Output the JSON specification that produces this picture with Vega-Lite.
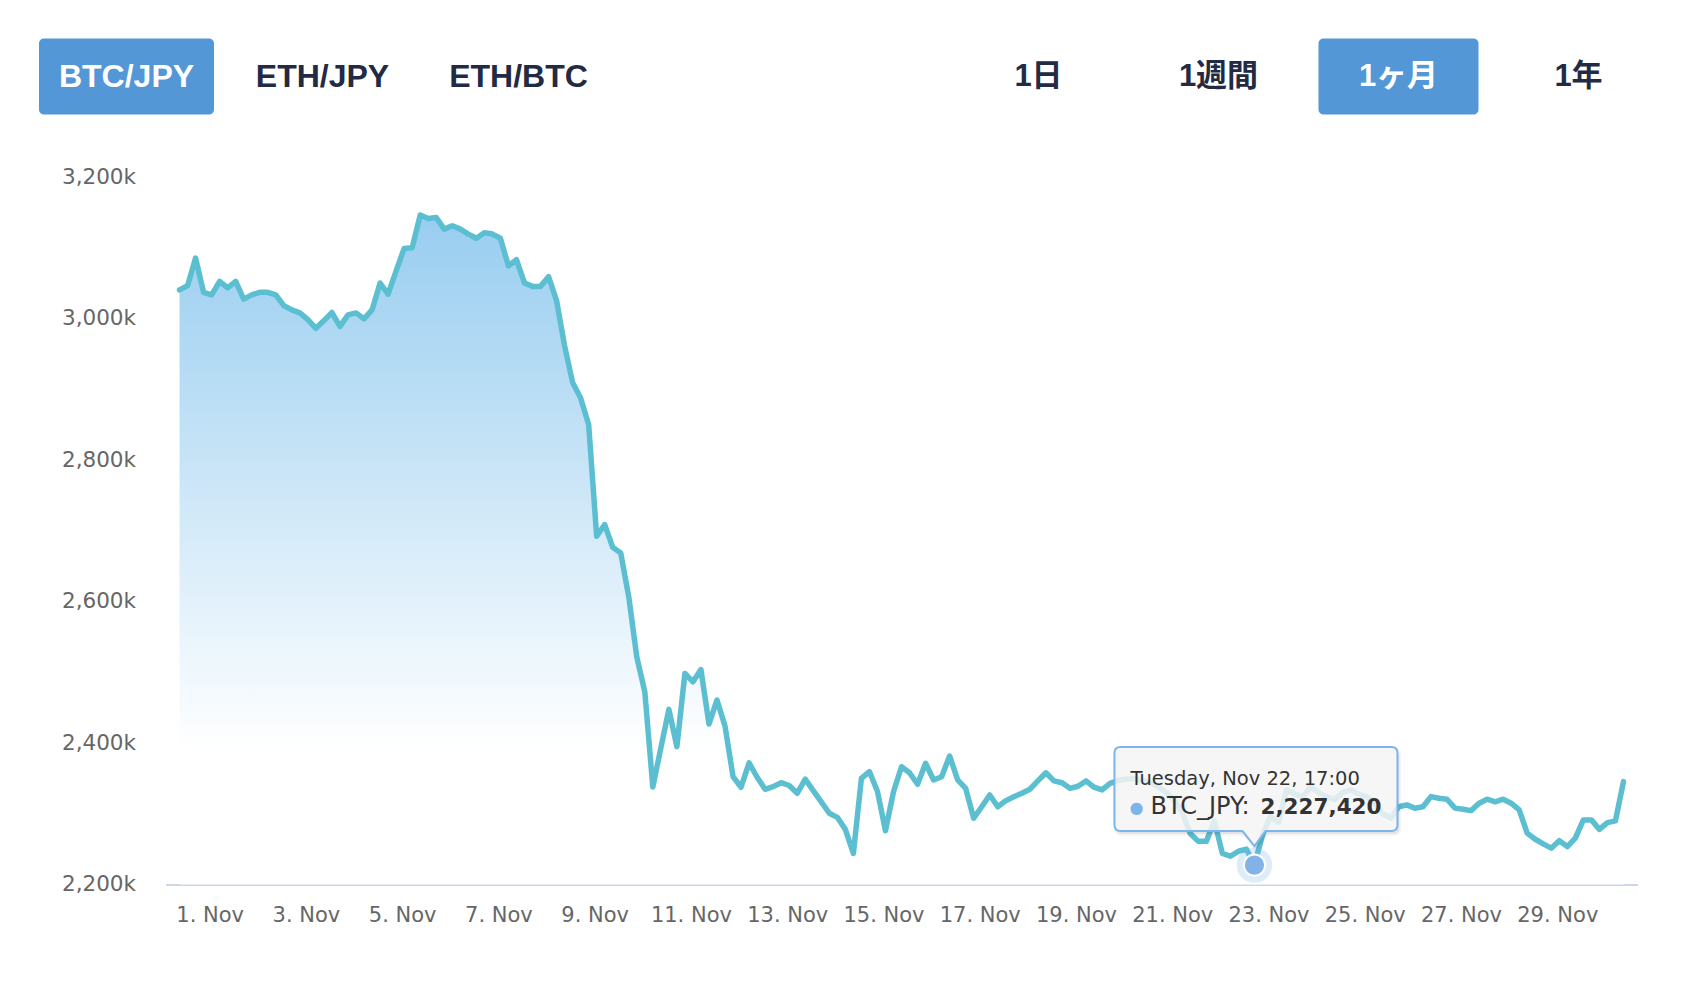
{
  "$schema": "https://vega.github.io/schema/vega-lite/v6.json",
  "background": "white",
  "autosize": {"type": "pad"},
  "padding": {"left": 38.5, "top": 38.5, "right": 63, "bottom": 60},
  "config": {"view": {"stroke": null}},
  "bounds": "flush",
  "spacing": 63,
  "datasets": {
    "buttons": [
      {"label": "BTC/JPY", "group": "pair", "on": true},
      {"label": "ETH/JPY", "group": "pair", "on": false},
      {"label": "ETH/BTC", "group": "pair", "on": false},
      {"label": "1日", "group": "range", "on": false},
      {"label": "1週間", "group": "range", "on": false},
      {"label": "1ヶ月", "group": "range", "on": true},
      {"label": "1年", "group": "range", "on": false}
    ],
    "tip": [{"t": "2022-11-22T17:00", "p": 2227420, "name": "BTC_JPY"}],
    "prices": [
      {"t":"2022-10-31T09:00","p":3041000},{"t":"2022-10-31T13:00","p":3047000},{"t":"2022-10-31T17:00","p":3086000},{"t":"2022-10-31T21:00","p":3037600},
      {"t":"2022-11-01T01:00","p":3034000},{"t":"2022-11-01T05:00","p":3053000},{"t":"2022-11-01T09:00","p":3044000},{"t":"2022-11-01T13:00","p":3053000},{"t":"2022-11-01T17:00","p":3028000},{"t":"2022-11-01T21:00","p":3034000},
      {"t":"2022-11-02T01:00","p":3037600},{"t":"2022-11-02T05:00","p":3037600},{"t":"2022-11-02T09:00","p":3034000},{"t":"2022-11-02T13:00","p":3018800},{"t":"2022-11-02T17:00","p":3012700},{"t":"2022-11-02T21:00","p":3008500},
      {"t":"2022-11-03T01:00","p":2999000},{"t":"2022-11-03T05:00","p":2986700},{"t":"2022-11-03T09:00","p":2997600},{"t":"2022-11-03T13:00","p":3009000},{"t":"2022-11-03T17:00","p":2989500},{"t":"2022-11-03T21:00","p":3005600},
      {"t":"2022-11-04T01:00","p":3008500},{"t":"2022-11-04T05:00","p":3000000},{"t":"2022-11-04T09:00","p":3012700},{"t":"2022-11-04T13:00","p":3050800},{"t":"2022-11-04T17:00","p":3035000},{"t":"2022-11-04T21:00","p":3068000},
      {"t":"2022-11-05T01:00","p":3099700},{"t":"2022-11-05T05:00","p":3100700},{"t":"2022-11-05T09:00","p":3146900},{"t":"2022-11-05T13:00","p":3142000},{"t":"2022-11-05T17:00","p":3143500},{"t":"2022-11-05T21:00","p":3127000},
      {"t":"2022-11-06T01:00","p":3131800},{"t":"2022-11-06T05:00","p":3127000},{"t":"2022-11-06T09:00","p":3120000},{"t":"2022-11-06T13:00","p":3114000},{"t":"2022-11-06T17:00","p":3122000},{"t":"2022-11-06T21:00","p":3120000},
      {"t":"2022-11-07T01:00","p":3114000},{"t":"2022-11-07T05:00","p":3075000},{"t":"2022-11-07T09:00","p":3083700},{"t":"2022-11-07T13:00","p":3050800},{"t":"2022-11-07T17:00","p":3046000},{"t":"2022-11-07T21:00","p":3046000},
      {"t":"2022-11-08T01:00","p":3059700},{"t":"2022-11-08T05:00","p":3026000},{"t":"2022-11-08T09:00","p":2962000},{"t":"2022-11-08T13:00","p":2910000},{"t":"2022-11-08T17:00","p":2888000},{"t":"2022-11-08T21:00","p":2850700},
      {"t":"2022-11-09T01:00","p":2692500},{"t":"2022-11-09T05:00","p":2709000},{"t":"2022-11-09T09:00","p":2677000},{"t":"2022-11-09T13:00","p":2669000},{"t":"2022-11-09T17:00","p":2606800},{"t":"2022-11-09T21:00","p":2522000},
      {"t":"2022-11-10T01:00","p":2472600},{"t":"2022-11-10T05:00","p":2338000},{"t":"2022-11-10T09:00","p":2393000},{"t":"2022-11-10T13:00","p":2447700},{"t":"2022-11-10T17:00","p":2395000},{"t":"2022-11-10T21:00","p":2498600},
      {"t":"2022-11-11T01:00","p":2486700},{"t":"2022-11-11T05:00","p":2504000},{"t":"2022-11-11T09:00","p":2427000},{"t":"2022-11-11T13:00","p":2461000},{"t":"2022-11-11T17:00","p":2424000},{"t":"2022-11-11T21:00","p":2352500},
      {"t":"2022-11-12T01:00","p":2337600},{"t":"2022-11-12T05:00","p":2372000},{"t":"2022-11-12T09:00","p":2351700},{"t":"2022-11-12T13:00","p":2334700},{"t":"2022-11-12T17:00","p":2338400},{"t":"2022-11-12T21:00","p":2344000},
      {"t":"2022-11-13T01:00","p":2340000},{"t":"2022-11-13T05:00","p":2329000},{"t":"2022-11-13T09:00","p":2349000},{"t":"2022-11-13T13:00","p":2332800},{"t":"2022-11-13T17:00","p":2316800},{"t":"2022-11-13T21:00","p":2300800},
      {"t":"2022-11-14T01:00","p":2295000},{"t":"2022-11-14T05:00","p":2278000},{"t":"2022-11-14T09:00","p":2244000},{"t":"2022-11-14T13:00","p":2350000},{"t":"2022-11-14T17:00","p":2359600},{"t":"2022-11-14T21:00","p":2332000},
      {"t":"2022-11-15T01:00","p":2276000},{"t":"2022-11-15T05:00","p":2331000},{"t":"2022-11-15T09:00","p":2366600},{"t":"2022-11-15T13:00","p":2358000},{"t":"2022-11-15T17:00","p":2341800},{"t":"2022-11-15T21:00","p":2371500},
      {"t":"2022-11-16T01:00","p":2347900},{"t":"2022-11-16T05:00","p":2352500},{"t":"2022-11-16T09:00","p":2381800},{"t":"2022-11-16T13:00","p":2347900},{"t":"2022-11-16T17:00","p":2336000},{"t":"2022-11-16T21:00","p":2293800},
      {"t":"2022-11-17T01:00","p":2310000},{"t":"2022-11-17T05:00","p":2326700},{"t":"2022-11-17T09:00","p":2310000},{"t":"2022-11-17T13:00","p":2318600},{"t":"2022-11-17T17:00","p":2324000},{"t":"2022-11-17T21:00","p":2329000},
      {"t":"2022-11-18T01:00","p":2334700},{"t":"2022-11-18T05:00","p":2346500},{"t":"2022-11-18T09:00","p":2358000},{"t":"2022-11-18T13:00","p":2346500},{"t":"2022-11-18T17:00","p":2344000},{"t":"2022-11-18T21:00","p":2336000},
      {"t":"2022-11-19T01:00","p":2339000},{"t":"2022-11-19T05:00","p":2346500},{"t":"2022-11-19T09:00","p":2337600},{"t":"2022-11-19T13:00","p":2333800},{"t":"2022-11-19T17:00","p":2343000},{"t":"2022-11-19T21:00","p":2347000},
      {"t":"2022-11-20T01:00","p":2349000},{"t":"2022-11-20T05:00","p":2350000},{"t":"2022-11-20T09:00","p":2347000},{"t":"2022-11-20T13:00","p":2344000},{"t":"2022-11-20T17:00","p":2338000},{"t":"2022-11-20T21:00","p":2330000},
      {"t":"2022-11-21T01:00","p":2320000},{"t":"2022-11-21T05:00","p":2302000},{"t":"2022-11-21T09:00","p":2272000},{"t":"2022-11-21T13:00","p":2261000},{"t":"2022-11-21T17:00","p":2261000},{"t":"2022-11-21T21:00","p":2290000},
      {"t":"2022-11-22T01:00","p":2244000},{"t":"2022-11-22T05:00","p":2240000},{"t":"2022-11-22T09:00","p":2247000},{"t":"2022-11-22T13:00","p":2250000},{"t":"2022-11-22T17:00","p":2227420},{"t":"2022-11-22T21:00","p":2270000},
      {"t":"2022-11-23T01:00","p":2296000},{"t":"2022-11-23T05:00","p":2288000},{"t":"2022-11-23T09:00","p":2334000},{"t":"2022-11-23T13:00","p":2328000},{"t":"2022-11-23T17:00","p":2324000},{"t":"2022-11-23T21:00","p":2338000},
      {"t":"2022-11-24T01:00","p":2330000},{"t":"2022-11-24T05:00","p":2324000},{"t":"2022-11-24T09:00","p":2320000},{"t":"2022-11-24T13:00","p":2330000},{"t":"2022-11-24T17:00","p":2334000},{"t":"2022-11-24T21:00","p":2328000},
      {"t":"2022-11-25T01:00","p":2324000},{"t":"2022-11-25T05:00","p":2315000},{"t":"2022-11-25T09:00","p":2300000},{"t":"2022-11-25T13:00","p":2294000},{"t":"2022-11-25T17:00","p":2310000},{"t":"2022-11-25T21:00","p":2312600},
      {"t":"2022-11-26T01:00","p":2307900},{"t":"2022-11-26T05:00","p":2310000},{"t":"2022-11-26T09:00","p":2324300},{"t":"2022-11-26T13:00","p":2322000},{"t":"2022-11-26T17:00","p":2320600},{"t":"2022-11-26T21:00","p":2308000},
      {"t":"2022-11-27T01:00","p":2306500},{"t":"2022-11-27T05:00","p":2304500},{"t":"2022-11-27T09:00","p":2315000},{"t":"2022-11-27T13:00","p":2320600},{"t":"2022-11-27T17:00","p":2317000},{"t":"2022-11-27T21:00","p":2320600},
      {"t":"2022-11-28T01:00","p":2315000},{"t":"2022-11-28T05:00","p":2305500},{"t":"2022-11-28T09:00","p":2272600},{"t":"2022-11-28T13:00","p":2264000},{"t":"2022-11-28T17:00","p":2257500},{"t":"2022-11-28T21:00","p":2251400},
      {"t":"2022-11-29T01:00","p":2262000},{"t":"2022-11-29T05:00","p":2253700},{"t":"2022-11-29T09:00","p":2265500},{"t":"2022-11-29T13:00","p":2291400},{"t":"2022-11-29T17:00","p":2291400},{"t":"2022-11-29T21:00","p":2278000},
      {"t":"2022-11-30T01:00","p":2287600},{"t":"2022-11-30T05:00","p":2290000},{"t":"2022-11-30T09:00","p":2345500}
    ]
  },
  "vconcat": [
    {
      "width": 1472,
      "height": 76,
      "data": {"name": "buttons"},
      "layer": [
        {
          "transform": [{"filter": "datum.group == 'pair' && datum.on"}],
          "mark": {"type": "bar", "width": {"band": 0.893}, "cornerRadius": 5, "color": "#5497d7"},
          "encoding": {
            "x": {"field": "label", "type": "nominal", "axis": null,
                  "scale": {"type": "band", "domain": ["BTC/JPY", "ETH/JPY", "ETH/BTC"], "range": [-137, 451], "paddingInner": 0, "paddingOuter": 0}}
          }
        },
        {
          "transform": [{"filter": "datum.group == 'pair'"}],
          "mark": {"type": "text", "font": "Liberation Sans, Noto Sans CJK JP", "fontSize": 32, "fontWeight": "bold", "baseline": "middle", "align": "center"},
          "encoding": {
            "x": {"field": "label", "type": "nominal", "axis": null,
                  "scale": {"type": "band", "domain": ["BTC/JPY", "ETH/JPY", "ETH/BTC"], "range": [-137, 451], "paddingInner": 0, "paddingOuter": 0}},
            "text": {"field": "label"},
            "color": {"condition": {"test": "datum.on", "value": "#ffffff"}, "value": "#222a44"}
          }
        },
        {
          "transform": [{"filter": "datum.group == 'range' && datum.on"}],
          "mark": {"type": "bar", "width": {"band": 0.889}, "cornerRadius": 5, "color": "#5497d7"},
          "encoding": {
            "x": {"field": "label", "type": "nominal", "axis": null,
                  "scale": {"type": "band", "domain": ["1日", "1週間", "1ヶ月", "1年"], "range": [783, 1503], "paddingInner": 0, "paddingOuter": 0}}
          }
        },
        {
          "transform": [{"filter": "datum.group == 'range'"}],
          "mark": {"type": "text", "font": "Liberation Sans, Noto Sans CJK JP", "fontSize": 31, "fontWeight": "bold", "baseline": "middle", "align": "center"},
          "encoding": {
            "x": {"field": "label", "type": "nominal", "axis": null,
                  "scale": {"type": "band", "domain": ["1日", "1週間", "1ヶ月", "1年"], "range": [783, 1503], "paddingInner": 0, "paddingOuter": 0}},
            "text": {"field": "label"},
            "color": {"condition": {"test": "datum.on", "value": "#ffffff"}, "value": "#222a44"}
          }
        }
      ],
      "resolve": {"scale": {"x": "independent", "color": "independent"}}
    },
    {
      "width": 1472,
      "height": 707,
      "data": {"name": "prices"},
      "encoding": {
        "x": {"field": "t", "type": "temporal",
              "scale": {"domain": [{"year": 2022, "month": "oct", "date": 31, "hours": 2}, {"year": 2022, "month": "nov", "date": 30, "hours": 16}]},
              "axis": {"title": null, "grid": false, "ticks": false, "tickSize": 0, "domainColor": "#ccd6eb", "domainWidth": 2,
                       "labelFont": "DejaVu Sans", "labelFontSize": 21, "labelColor": "#666666", "labelPadding": 20,
                       "labelFlush": false, "labelOverlap": false, "format": "%-d. %b",
                       "values": [
                         {"year": 2022, "month": "nov", "date": 1}, {"year": 2022, "month": "nov", "date": 3}, {"year": 2022, "month": "nov", "date": 5},
                         {"year": 2022, "month": "nov", "date": 7}, {"year": 2022, "month": "nov", "date": 9}, {"year": 2022, "month": "nov", "date": 11},
                         {"year": 2022, "month": "nov", "date": 13}, {"year": 2022, "month": "nov", "date": 15}, {"year": 2022, "month": "nov", "date": 17},
                         {"year": 2022, "month": "nov", "date": 19}, {"year": 2022, "month": "nov", "date": 21}, {"year": 2022, "month": "nov", "date": 23},
                         {"year": 2022, "month": "nov", "date": 25}, {"year": 2022, "month": "nov", "date": 27}, {"year": 2022, "month": "nov", "date": 29}
                       ]}},
        "y": {"field": "p", "type": "quantitative",
              "scale": {"domain": [2200000, 3200000], "nice": false, "zero": false},
              "axis": {"title": null, "grid": false, "domain": false, "ticks": false, "tickSize": 0,
                       "labelFont": "DejaVu Sans", "labelFontSize": 21.5, "labelColor": "#666666", "labelPadding": 30,
                       "labelFlush": false, "labelOverlap": false,
                       "values": [2200000, 2400000, 2600000, 2800000, 3000000, 3200000],
                       "labelExpr": "format(datum.value / 1000, ',') + 'k'"}}
      },
      "layer": [
        {
          "mark": {"type": "area", "line": false,
                   "color": {"gradient": "linear", "x1": 0, "y1": 0, "x2": 0, "y2": 1,
                             "stops": [{"offset": 0, "color": "#98cdf0"}, {"offset": 0.8, "color": "#ffffff"}]}},
          "encoding": {"y2": {"datum": 2200000}}
        },
        {
          "mark": {"type": "line", "color": "#5bbfd1", "strokeWidth": 5.5, "strokeJoin": "round", "strokeCap": "round"}
        },
        {
          "data": {"name": "tip"},
          "mark": {"type": "point", "shape": "circle", "filled": true, "size": 1257, "color": "#7cb5ec", "opacity": 0.25}
        },
        {
          "data": {"name": "tip"},
          "mark": {"type": "point", "shape": "circle", "filled": true, "size": 452, "fill": "#82b2e8", "stroke": "#ffffff", "strokeWidth": 2, "opacity": 1}
        },
        {
          "data": {"name": "tip"},
          "mark": {"type": "point", "filled": true, "size": 40000, "fill": "#000000", "fillOpacity": 0.07, "stroke": "#000000", "strokeOpacity": 0.04, "strokeWidth": 4,
                   "shape": "M -1.32 -1.15 L 1.39 -1.15 Q 1.45 -1.15 1.45 -1.09 L 1.45 -0.37 Q 1.45 -0.31 1.39 -0.31 L 0.13 -0.31 L 0.02 -0.16 L -0.10 -0.31 L -1.32 -0.31 Q -1.38 -0.31 -1.38 -0.37 L -1.38 -1.09 Q -1.38 -1.15 -1.32 -1.15 Z"}
        },
        {
          "data": {"name": "tip"},
          "mark": {"type": "point", "filled": true, "size": 40000, "fill": "#f7f7f7", "fillOpacity": 0.85, "stroke": "#7cb5ec", "strokeWidth": 2, "strokeOpacity": 1,
                   "shape": "M -1.34 -1.18 L 1.37 -1.18 Q 1.43 -1.18 1.43 -1.12 L 1.43 -0.40 Q 1.43 -0.34 1.37 -0.34 L 0.11 -0.34 L 0 -0.19 L -0.12 -0.34 L -1.34 -0.34 Q -1.40 -0.34 -1.40 -0.40 L -1.40 -1.12 Q -1.40 -1.18 -1.34 -1.18 Z"}
        },
        {
          "data": {"name": "tip"},
          "mark": {"type": "text", "align": "left", "baseline": "alphabetic", "dx": -124, "dy": -80, "font": "DejaVu Sans", "fontSize": 19.5, "color": "#333333"},
          "encoding": {"text": {"field": "t", "type": "temporal", "format": "%A, %b %-d, %H:%M"}}
        },
        {
          "data": {"name": "tip"},
          "mark": {"type": "text", "align": "center", "baseline": "middle", "dx": -118, "dy": -57, "font": "DejaVu Sans", "fontSize": 16, "color": "#7cb5ec", "text": "●"}
        },
        {
          "data": {"name": "tip"},
          "mark": {"type": "text", "align": "left", "baseline": "alphabetic", "dx": -104, "dy": -51, "font": "DejaVu Sans", "fontSize": 24, "color": "#333333", "text": {"expr": "datum.name + ':'"}}
        },
        {
          "data": {"name": "tip"},
          "mark": {"type": "text", "align": "left", "baseline": "alphabetic", "dx": 6, "dy": -51, "font": "DejaVu Sans", "fontSize": 21.5, "fontWeight": "bold", "color": "#333333"},
          "encoding": {"text": {"field": "p", "type": "quantitative", "format": ","}}
        }
      ]
    }
  ]
}
